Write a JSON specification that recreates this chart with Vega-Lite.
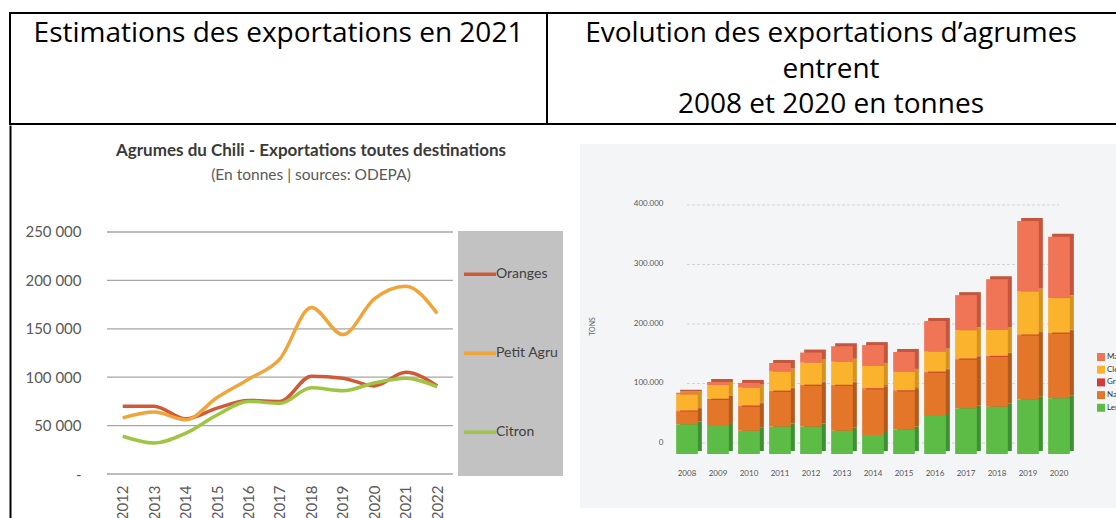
{
  "$schema": "https://vega.github.io/schema/vega-lite/v6.json",
  "padding": {"left": 9, "top": 12, "right": 0, "bottom": 0},
  "background": "white",
  "config": {"font": "Lato", "view": {"stroke": null}},
  "datasets": {
    "hdrL": [{"line": 1, "text": "Estimations des exportations en 2021"}],
    "hdrR": [
      {"line": 1, "text": "Evolution des exportations d’agrumes"},
      {"line": 2, "text": "entrent"},
      {"line": 3, "text": "2008 et 2020 en tonnes"}
    ],
    "agrumes": [
      {"year": 2012, "serie": "Oranges", "tonnes": 70000},
      {"year": 2013, "serie": "Oranges", "tonnes": 70000},
      {"year": 2014, "serie": "Oranges", "tonnes": 57000},
      {"year": 2015, "serie": "Oranges", "tonnes": 68000},
      {"year": 2016, "serie": "Oranges", "tonnes": 76000},
      {"year": 2017, "serie": "Oranges", "tonnes": 75000},
      {"year": 2018, "serie": "Oranges", "tonnes": 101000},
      {"year": 2019, "serie": "Oranges", "tonnes": 99000},
      {"year": 2020, "serie": "Oranges", "tonnes": 91000},
      {"year": 2021, "serie": "Oranges", "tonnes": 105000},
      {"year": 2022, "serie": "Oranges", "tonnes": 91000},
      {"year": 2012, "serie": "Petit Agrumes", "tonnes": 58000},
      {"year": 2013, "serie": "Petit Agrumes", "tonnes": 64000},
      {"year": 2014, "serie": "Petit Agrumes", "tonnes": 56000},
      {"year": 2015, "serie": "Petit Agrumes", "tonnes": 79000},
      {"year": 2016, "serie": "Petit Agrumes", "tonnes": 98000},
      {"year": 2017, "serie": "Petit Agrumes", "tonnes": 119000},
      {"year": 2018, "serie": "Petit Agrumes", "tonnes": 172000},
      {"year": 2019, "serie": "Petit Agrumes", "tonnes": 144000},
      {"year": 2020, "serie": "Petit Agrumes", "tonnes": 181000},
      {"year": 2021, "serie": "Petit Agrumes", "tonnes": 194000},
      {"year": 2022, "serie": "Petit Agrumes", "tonnes": 166000},
      {"year": 2012, "serie": "Citron", "tonnes": 39000},
      {"year": 2013, "serie": "Citron", "tonnes": 32000},
      {"year": 2014, "serie": "Citron", "tonnes": 42000},
      {"year": 2015, "serie": "Citron", "tonnes": 61000},
      {"year": 2016, "serie": "Citron", "tonnes": 75000},
      {"year": 2017, "serie": "Citron", "tonnes": 73000},
      {"year": 2018, "serie": "Citron", "tonnes": 89000},
      {"year": 2019, "serie": "Citron", "tonnes": 86000},
      {"year": 2020, "serie": "Citron", "tonnes": 94000},
      {"year": 2021, "serie": "Citron", "tonnes": 99000},
      {"year": 2022, "serie": "Citron", "tonnes": 90000}
    ],
    "bars": [
      {"year": "2008", "fruit": "Lemons", "ord": 1, "tonnes": 50000},
      {"year": "2008", "fruit": "Navels", "ord": 2, "tonnes": 22000},
      {"year": "2008", "fruit": "Grapefruit", "ord": 3, "tonnes": 1000},
      {"year": "2008", "fruit": "Clementines", "ord": 4, "tonnes": 27000},
      {"year": "2008", "fruit": "Mandarins", "ord": 5, "tonnes": 3000},
      {"year": "2009", "fruit": "Lemons", "ord": 1, "tonnes": 47000},
      {"year": "2009", "fruit": "Navels", "ord": 2, "tonnes": 44000},
      {"year": "2009", "fruit": "Grapefruit", "ord": 3, "tonnes": 2000},
      {"year": "2009", "fruit": "Clementines", "ord": 4, "tonnes": 23000},
      {"year": "2009", "fruit": "Mandarins", "ord": 5, "tonnes": 5000},
      {"year": "2010", "fruit": "Lemons", "ord": 1, "tonnes": 39000},
      {"year": "2010", "fruit": "Navels", "ord": 2, "tonnes": 41000},
      {"year": "2010", "fruit": "Grapefruit", "ord": 3, "tonnes": 1500},
      {"year": "2010", "fruit": "Clementines", "ord": 4, "tonnes": 30000},
      {"year": "2010", "fruit": "Mandarins", "ord": 5, "tonnes": 8000},
      {"year": "2011", "fruit": "Lemons", "ord": 1, "tonnes": 46000},
      {"year": "2011", "fruit": "Navels", "ord": 2, "tonnes": 59000},
      {"year": "2011", "fruit": "Grapefruit", "ord": 3, "tonnes": 1500},
      {"year": "2011", "fruit": "Clementines", "ord": 4, "tonnes": 32000},
      {"year": "2011", "fruit": "Mandarins", "ord": 5, "tonnes": 14500},
      {"year": "2012", "fruit": "Lemons", "ord": 1, "tonnes": 46000},
      {"year": "2012", "fruit": "Navels", "ord": 2, "tonnes": 69000},
      {"year": "2012", "fruit": "Grapefruit", "ord": 3, "tonnes": 1500},
      {"year": "2012", "fruit": "Clementines", "ord": 4, "tonnes": 37000},
      {"year": "2012", "fruit": "Mandarins", "ord": 5, "tonnes": 17000},
      {"year": "2013", "fruit": "Lemons", "ord": 1, "tonnes": 39000},
      {"year": "2013", "fruit": "Navels", "ord": 2, "tonnes": 76000},
      {"year": "2013", "fruit": "Grapefruit", "ord": 3, "tonnes": 1500},
      {"year": "2013", "fruit": "Clementines", "ord": 4, "tonnes": 38500},
      {"year": "2013", "fruit": "Mandarins", "ord": 5, "tonnes": 26000},
      {"year": "2014", "fruit": "Lemons", "ord": 1, "tonnes": 32000},
      {"year": "2014", "fruit": "Navels", "ord": 2, "tonnes": 77000},
      {"year": "2014", "fruit": "Grapefruit", "ord": 3, "tonnes": 1500},
      {"year": "2014", "fruit": "Clementines", "ord": 4, "tonnes": 37500},
      {"year": "2014", "fruit": "Mandarins", "ord": 5, "tonnes": 35000},
      {"year": "2015", "fruit": "Lemons", "ord": 1, "tonnes": 41500},
      {"year": "2015", "fruit": "Navels", "ord": 2, "tonnes": 64000},
      {"year": "2015", "fruit": "Grapefruit", "ord": 3, "tonnes": 1500},
      {"year": "2015", "fruit": "Clementines", "ord": 4, "tonnes": 31000},
      {"year": "2015", "fruit": "Mandarins", "ord": 5, "tonnes": 33500},
      {"year": "2016", "fruit": "Lemons", "ord": 1, "tonnes": 64000},
      {"year": "2016", "fruit": "Navels", "ord": 2, "tonnes": 73000},
      {"year": "2016", "fruit": "Grapefruit", "ord": 3, "tonnes": 1500},
      {"year": "2016", "fruit": "Clementines", "ord": 4, "tonnes": 33500},
      {"year": "2016", "fruit": "Mandarins", "ord": 5, "tonnes": 51500},
      {"year": "2017", "fruit": "Lemons", "ord": 1, "tonnes": 77000},
      {"year": "2017", "fruit": "Navels", "ord": 2, "tonnes": 82000},
      {"year": "2017", "fruit": "Grapefruit", "ord": 3, "tonnes": 1500},
      {"year": "2017", "fruit": "Clementines", "ord": 4, "tonnes": 47500},
      {"year": "2017", "fruit": "Mandarins", "ord": 5, "tonnes": 59000},
      {"year": "2018", "fruit": "Lemons", "ord": 1, "tonnes": 79500},
      {"year": "2018", "fruit": "Navels", "ord": 2, "tonnes": 84000},
      {"year": "2018", "fruit": "Grapefruit", "ord": 3, "tonnes": 1500},
      {"year": "2018", "fruit": "Clementines", "ord": 4, "tonnes": 43500},
      {"year": "2018", "fruit": "Mandarins", "ord": 5, "tonnes": 85000},
      {"year": "2019", "fruit": "Lemons", "ord": 1, "tonnes": 92000},
      {"year": "2019", "fruit": "Navels", "ord": 2, "tonnes": 107500},
      {"year": "2019", "fruit": "Grapefruit", "ord": 3, "tonnes": 1500},
      {"year": "2019", "fruit": "Clementines", "ord": 4, "tonnes": 72000},
      {"year": "2019", "fruit": "Mandarins", "ord": 5, "tonnes": 118500},
      {"year": "2020", "fruit": "Lemons", "ord": 1, "tonnes": 93500},
      {"year": "2020", "fruit": "Navels", "ord": 2, "tonnes": 109000},
      {"year": "2020", "fruit": "Grapefruit", "ord": 3, "tonnes": 1500},
      {"year": "2020", "fruit": "Clementines", "ord": 4, "tonnes": 58000},
      {"year": "2020", "fruit": "Mandarins", "ord": 5, "tonnes": 103000}
    ]
  },
  "spacing": -1,
  "bounds": "full",
  "resolve": {"scale": {"color": "independent"}, "legend": {"color": "independent"}},
  "vconcat": [
    {
      "spacing": 0,
      "bounds": "flush",
      "hconcat": [
        {
          "width": 537,
          "height": 111,
          "view": {"stroke": "black", "strokeWidth": 2},
          "data": {"name": "hdrL"},
          "mark": {"type": "text", "font": "Open Sans", "fontSize": 28, "color": "black", "baseline": "alphabetic"},
          "encoding": {
            "y": {"field": "line", "type": "ordinal", "scale": {"type": "point", "domain": [1, 2, 3], "padding": 0.5634, "align": 0.725}, "axis": null},
            "text": {"field": "text"}
          }
        },
        {
          "width": 600,
          "height": 111,
          "view": {"stroke": "black", "strokeWidth": 2},
          "data": {"name": "hdrR"},
          "mark": {"type": "text", "font": "Open Sans", "fontSize": 28, "color": "black", "baseline": "alphabetic", "dx": -16},
          "encoding": {
            "y": {"field": "line", "type": "ordinal", "scale": {"type": "point", "domain": [1, 2, 3], "padding": 0.5634, "align": 0.725}, "axis": null},
            "text": {"field": "text"}
          }
        }
      ]
    },
    {
      "spacing": 0,
      "bounds": "flush",
      "center": true,
      "resolve": {"scale": {"color": "independent"}, "legend": {"color": "independent"}},
      "hconcat": [
        {
          "width": 570,
          "height": 402,
          "title": {
            "text": "Agrumes du Chili - Exportations toutes destinations",
            "subtitle": "(En tonnes | sources: ODEPA)",
            "frame": "group",
            "anchor": "middle",
            "dx": 16,
            "offset": -59,
            "fontSize": 17,
            "fontWeight": "bold",
            "color": "#3a3a3a",
            "subtitleFontSize": 15.5,
            "subtitleColor": "#595959",
            "subtitlePadding": 8
          },
          "layer": [
            {
              "data": {"values": [{"tonnes": 0}, {"tonnes": 50000}, {"tonnes": 100000}, {"tonnes": 150000}, {"tonnes": 200000}, {"tonnes": 250000}]},
              "mark": {"type": "rule", "color": "#a6a6a6", "strokeWidth": 1.3},
              "encoding": {
                "y": {
                  "field": "tonnes",
                  "type": "quantitative",
                  "axis": {"values": [0, 50000, 100000, 150000, 200000, 250000], "labelExpr": "datum.value === 0 ? '-' : replace(format(datum.value, ','), ',', ' ')", "grid": false, "ticks": false, "domain": true, "domainColor": "black", "domainWidth": 2, "labelPadding": -71, "labelFontSize": 15, "labelColor": "#595959", "title": null}
                },
                "x": {
                  "datum": 2011.5,
                  "type": "quantitative",
                  "axis": {"values": [2012, 2013, 2014, 2015, 2016, 2017, 2018, 2019, 2020, 2021, 2022], "format": "d", "labelAngle": 270, "grid": false, "ticks": false, "domain": false, "offset": -53, "labelPadding": 11, "labelFontSize": 15, "labelColor": "#595959", "title": null}
                },
                "x2": {"datum": 2022.5}
              }
            },
            {
              "data": {"name": "agrumes"},
              "mark": {"type": "line", "interpolate": "monotone", "strokeWidth": 3.5},
              "encoding": {
                "x": {
                  "field": "year",
                  "type": "quantitative",
                  "scale": {"domain": [2008.4165, 2026.54], "nice": false, "zero": false},
                  "axis": {"values": [2012, 2013, 2014, 2015, 2016, 2017, 2018, 2019, 2020, 2021, 2022], "format": "d", "labelAngle": 270, "grid": false, "ticks": false, "domain": false, "offset": -53, "labelPadding": 11, "labelFontSize": 15, "labelColor": "#595959", "title": null}
                },
                "y": {
                  "field": "tonnes",
                  "type": "quantitative",
                  "scale": {"domain": [-54752, 360537], "nice": false, "zero": false},
                  "axis": {"values": [0, 50000, 100000, 150000, 200000, 250000], "labelExpr": "datum.value === 0 ? '-' : replace(format(datum.value, ','), ',', ' ')", "grid": false, "ticks": false, "domain": true, "domainColor": "black", "domainWidth": 2, "labelPadding": -71, "labelFontSize": 15, "labelColor": "#595959", "title": null}
                },
                "color": {
                  "field": "serie",
                  "type": "nominal",
                  "scale": {"domain": ["Oranges", "Petit Agrumes", "Citron"], "range": ["#d05a38", "#f0a43a", "#a0c544"]},
                  "legend": {"orient": "none", "legendX": 448, "legendY": 106, "title": null, "fillColor": "#c2c2c2", "padding": 4, "clipHeight": 78.7, "rowPadding": 0, "symbolType": "stroke", "symbolSize": 1024, "symbolStrokeWidth": 3.5, "labelOffset": -2, "labelFontSize": 14, "labelColor": "#404040", "labelExpr": "substring(datum.label, 0, 10)"}
                }
              }
            }
          ]
        },
        {
          "width": 536,
          "height": 364,
          "view": {"fill": "#f4f5f7"},
          "resolve": {"scale": {"color": "independent"}, "legend": {"color": "independent"}},
          "layer": [
            {
              "data": {"values": [{"tonnes": 0}, {"tonnes": 100000}, {"tonnes": 200000}, {"tonnes": 300000}, {"tonnes": 400000}]},
              "mark": {"type": "rule", "color": "#d2d4d8", "strokeWidth": 1, "strokeDash": [3, 2], "yOffset": -11},
              "encoding": {
                "y": {
                  "field": "tonnes",
                  "type": "quantitative",
                  "axis": {"values": [0, 100000, 200000, 300000, 400000], "labelExpr": "replace(format(datum.value, ','), ',', '.')", "grid": false, "ticks": false, "domain": false, "offset": -85, "labelPadding": 2, "labelOffset": -12, "labelFontSize": 8, "labelColor": "#555555", "title": "TONS", "titleFontSize": 7, "titleFontWeight": "normal", "titleColor": "#666666", "titlePadding": 38}
                },
                "x": {
                  "datum": "2008",
                  "type": "ordinal",
                  "axis": {"offset": -41, "labelPadding": 2, "ticks": false, "domain": false, "labelAngle": 0, "labelFontSize": 8, "labelColor": "#555555", "title": null}
                },
                "x2": {"datum": "2020"}
              }
            },
            {
              "data": {"name": "bars"},
              "mark": {"type": "bar", "xOffset": 4, "yOffset": -3},
              "encoding": {
                "x": {
                  "field": "year",
                  "type": "ordinal",
                  "scale": {"type": "band", "range": [91.5, 494.5], "paddingInner": 0.3, "paddingOuter": 0.15},
                  "axis": {"offset": -41, "labelPadding": 2, "ticks": false, "domain": false, "labelAngle": 0, "labelFontSize": 8, "labelColor": "#555555", "title": null}
                },
                "y": {
                  "field": "tonnes",
                  "type": "quantitative",
                  "stack": "zero",
                  "scale": {"domain": [-90756, 521008], "nice": false, "zero": false},
                  "axis": {"values": [0, 100000, 200000, 300000, 400000], "labelExpr": "replace(format(datum.value, ','), ',', '.')", "grid": false, "ticks": false, "domain": false, "offset": -85, "labelPadding": 2, "labelOffset": -12, "labelFontSize": 8, "labelColor": "#555555", "title": "TONS", "titleFontSize": 7, "titleFontWeight": "normal", "titleColor": "#666666", "titlePadding": 38}
                },
                "color": {
                  "field": "fruit",
                  "type": "nominal",
                  "scale": {"domain": ["Mandarins", "Clementines", "Grapefruit", "Navels", "Lemons"], "range": ["#c4563d", "#d4921f", "#a82c2c", "#b35a1c", "#3f8f35"]},
                  "legend": null
                },
                "order": {"field": "ord", "type": "quantitative"}
              }
            },
            {
              "data": {"name": "bars"},
              "mark": {"type": "bar"},
              "encoding": {
                "x": {
                  "field": "year",
                  "type": "ordinal",
                  "scale": {"type": "band", "range": [91.5, 494.5], "paddingInner": 0.3, "paddingOuter": 0.15},
                  "axis": {"offset": -41, "labelPadding": 2, "ticks": false, "domain": false, "labelAngle": 0, "labelFontSize": 8, "labelColor": "#555555", "title": null}
                },
                "y": {
                  "field": "tonnes",
                  "type": "quantitative",
                  "stack": "zero",
                  "scale": {"domain": [-90756, 521008], "nice": false, "zero": false},
                  "axis": {"values": [0, 100000, 200000, 300000, 400000], "labelExpr": "replace(format(datum.value, ','), ',', '.')", "grid": false, "ticks": false, "domain": false, "offset": -85, "labelPadding": 2, "labelOffset": -12, "labelFontSize": 8, "labelColor": "#555555", "title": "TONS", "titleFontSize": 7, "titleFontWeight": "normal", "titleColor": "#666666", "titlePadding": 38}
                },
                "color": {
                  "field": "fruit",
                  "type": "nominal",
                  "scale": {"domain": ["Mandarins", "Clementines", "Grapefruit", "Navels", "Lemons"], "range": ["#f07456", "#fbb22c", "#d63b3b", "#e37628", "#5dbc45"]},
                  "legend": {"orient": "none", "legendX": 517, "legendY": 209, "title": null, "symbolType": "square", "symbolSize": 64, "symbolStrokeWidth": 0, "labelFontSize": 8, "labelColor": "#333333", "rowPadding": 4.7, "labelOffset": 2, "padding": 0}
                },
                "order": {"field": "ord", "type": "quantitative"}
              }
            }
          ]
        }
      ]
    }
  ]
}
